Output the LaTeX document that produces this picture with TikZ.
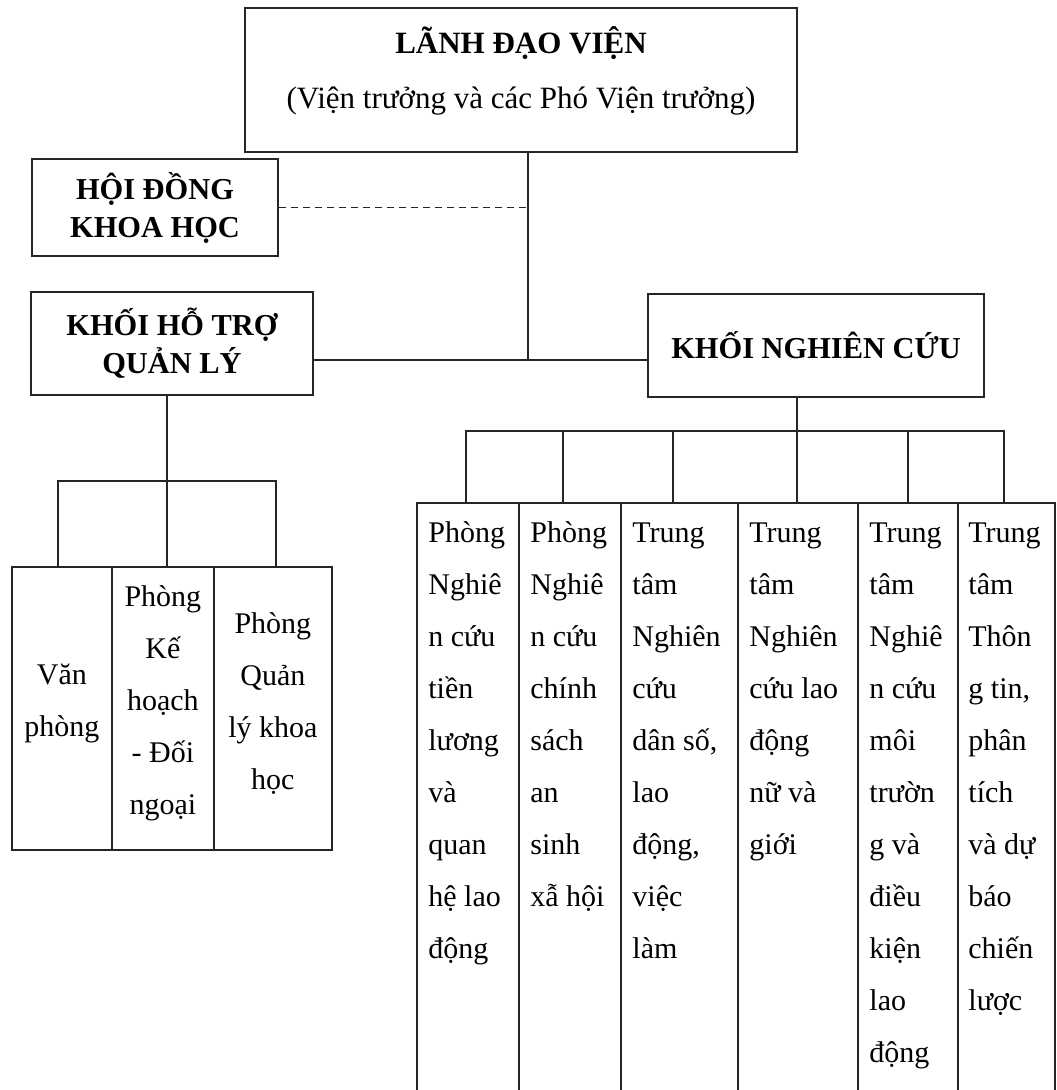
\documentclass[tikz,border=0pt]{standalone}
\usepackage{fontspec}
\setmainfont{Liberation Serif}
\usetikzlibrary{calc}
\begin{document}
\begin{tikzpicture}[x=0.5pt,y=-0.5pt,
  ln/.style={line width=0.9pt, draw=black!85},
  box/.style={draw=black!85, line width=0.9pt, rectangle, inner sep=0pt},
  hdr/.style={box, align=center, font=\fontsize{15.2}{19}\selectfont\bfseries},
  col/.style={box, anchor=north west, minimum height=300pt},
  lbox/.style={box, anchor=north west, minimum height=141.5pt},
  ctext/.style={anchor=north west, inner sep=0pt, align=left, font=\fontsize{15}{26}\selectfont},
  ltext/.style={inner sep=0pt, align=center, font=\fontsize{15}{26}\selectfont}]
\useasboundingbox (0,0) rectangle (1056,1090);

% top box
\node[box, minimum width=276pt, minimum height=72pt] (lead) at (521,80) {};
\node[inner sep=0pt, align=center, font=\fontsize{15.5}{27.5}\selectfont] (leadt) at (521,71)
  {\textbf{LÃNH ĐẠO VIỆN}\\(Viện trưởng và các Phó Viện trưởng)};

% headers
\node[hdr, minimum width=123pt, minimum height=48.5pt] (hd) at (155,207.5) {HỘI ĐỒNG\\KHOA HỌC};
\node[hdr, minimum width=141pt, minimum height=51.5pt] (ht) at (172,343.5) {KHỐI HỖ TRỢ\\QUẢN LÝ};
\node[hdr, minimum width=168pt, minimum height=51.5pt] (kn) at (816,345.5) {KHỐI NGHIÊN CỨU};

% left group boxes
\node[lbox, minimum width=50pt] (l1) at (11,566) {};
\node[lbox, minimum width=51pt] (l2) at (111,566) {};
\node[lbox, minimum width=59pt] (l3) at (213,566) {};
\node[ltext] (l1t) at ($(l1.center)+(0,-5)$) {Văn\\phòng};
\node[ltext] (l2t) at ($(l2.center)+(0,-5)$) {Phòng\\Kế\\hoạch\\- Đối\\ngoại};
\node[ltext] (l3t) at ($(l3.center)+(0,-5)$) {Phòng\\Quản\\lý khoa\\học};

% research columns
\node[col, minimum width=51pt] (c1) at (416,502) {};
\node[col, minimum width=51pt] (c2) at (518,502) {};
\node[col, minimum width=58.5pt] (c3) at (620,502) {};
\node[col, minimum width=60pt] (c4) at (737,502) {};
\node[col, minimum width=50pt] (c5) at (857,502) {};
\node[col, minimum width=48.5pt] (c6) at (957,502) {};

\node[ctext] (t1) at ($(c1.north west)+(12,4)$) {\strut Phòng\\Nghiê\\n cứu\\tiền\\lương\\và\\quan\\hệ lao\\động};
\node[ctext] (t2) at ($(c2.north west)+(12,4)$) {\strut Phòng\\Nghiê\\n cứu\\chính\\sách\\an\\sinh\\xẫ hội};
\node[ctext] (t3) at ($(c3.north west)+(12,4)$) {\strut Trung\\tâm\\Nghiên\\cứu\\dân số,\\lao\\động,\\việc\\làm};
\node[ctext] (t4) at ($(c4.north west)+(12,4)$) {\strut Trung\\tâm\\Nghiên\\cứu lao\\động\\nữ và\\giới};
\node[ctext] (t5) at ($(c5.north west)+(12,4)$) {\strut Trung\\tâm\\Nghiê\\n cứu\\môi\\trườn\\g và\\điều\\kiện\\lao\\động};
\node[ctext] (t6) at ($(c6.north west)+(11,4)$) {\strut Trung\\tâm\\Thôn\\g tin,\\phân\\tích\\và dự\\báo\\chiến\\lược};

% connector junctions
\coordinate (j1) at (528,360);
\coordinate (j2) at (797,431);
\coordinate (j3) at (167,481);
\coordinate (d1) at (58,481);
\coordinate (d3) at (276,481);
\coordinate (b1) at (466,431);
\coordinate (b2) at (563,431);
\coordinate (b3) at (673,431);
\coordinate (b5) at (908,431);
\coordinate (b6) at (1004,431);

\draw[ln] (lead.south -| j1) -- (j1);
\draw[ln, dash pattern=on 3.5pt off 2.5pt] (hd.east) -- (hd.east -| j1);
\draw[ln] (ht.east |- j1) -- (kn.west |- j1);

\draw[ln] (kn.south -| j2) -- (j2) -- (j2 |- c4.north);
\draw[ln] (b1 |- c1.north) -- (b1) -- (b6) -- (b6 |- c6.north);
\draw[ln] (b2) -- (b2 |- c2.north);
\draw[ln] (b3) -- (b3 |- c3.north);
\draw[ln] (b5) -- (b5 |- c5.north);

\draw[ln] (ht.south -| j3) -- (j3) -- (j3 |- l2.north);
\draw[ln] (d1 |- l1.north) -- (d1) -- (d3) -- (d3 |- l3.north);
\end{tikzpicture}
\end{document}
